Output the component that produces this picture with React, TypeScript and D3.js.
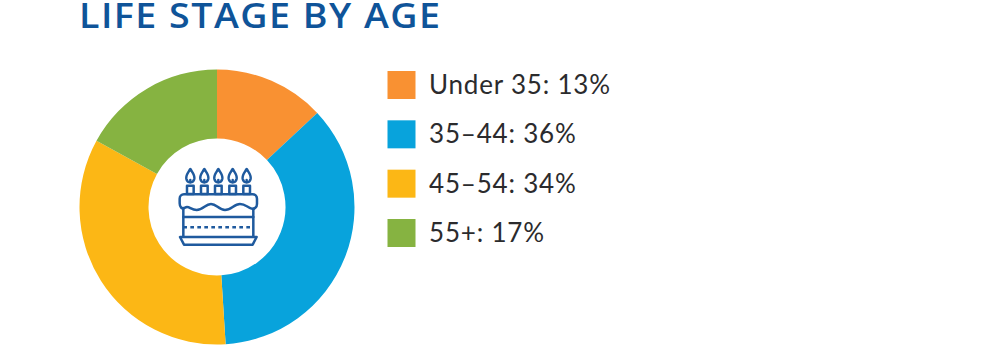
import React from "react";
import * as d3 from "d3";

const title = "LIFE STAGE BY AGE";
const categories = ["Under 35", "35–44", "45–54", "55+"];
const values = [13, 36, 34, 17];
const colors = ["#F99132", "#08A3DC", "#FCB715", "#86B341"];

const pie = d3.pie<number>().sort(null).value((d) => d);
const arc = d3.arc<d3.PieArcDatum<number>>().innerRadius(68.5).outerRadius(137.5);
const legendY = d3.scalePoint<number>().domain(d3.range(categories.length)).range([85, 233]);
const candleX = [151, 193, 235, 278, 320];

function Cake() {
  const c = "#1F5A9E";
  return (
    <g transform="translate(140,130) scale(0.3333)" fill="none" stroke={c} strokeWidth={7.5} strokeLinejoin="round" strokeLinecap="round">
      {candleX.map((x) => (
        <g key={x}>
          <path d={`M${x} 117 C${x - 6} 127 ${x - 14} 135 ${x - 12} 146 C${x - 10} 155 ${x - 5} 157 ${x} 157 C${x + 5} 157 ${x + 10} 155 ${x + 12} 146 C${x + 14} 135 ${x + 6} 127 ${x} 117 Z`} />
          <path d={`M${x} 150 V157`} />
          <rect x={x - 10} y={167} width={20} height={25} />
        </g>
      ))}
      <path d="M132 193 H338 C346 193 351 199 351 206 V222 C351 232 343 238 335 236 C322 232 316 222 300 222 C282 222 274 240 255 240 C236 240 230 222 213 222 C196 222 190 240 170 240 C152 240 146 225 135 233 C125 239 119 230 119 220 V206 C119 199 124 193 132 193 Z" />
      <path d="M130 236 V320 M340 236 V320" />
      <path d="M130 261 H340" />
      <path d="M130 292 H340" strokeDasharray="11 10" strokeLinecap="butt" />
      <path d="M120 321 H350 L338 344 H132 Z" />
    </g>
  );
}

export default function App() {
  const slices = pie(values);
  return (
    <svg width={1000} height={352} viewBox="0 0 1000 352" style={{ position: "absolute", left: 0, top: 0, background: "#fff" }}>
      <text transform="translate(79,27.5) scale(1.09,1)" fontFamily="Open Sans" fontWeight={600} fontSize={34.5} letterSpacing={1.35} fill="#0F5499">{title}</text>
      <g transform="translate(217,207)">
        {slices.map((s, i) => (
          <path key={categories[i]} d={arc(s) ?? ""} fill={colors[i]} />
        ))}
      </g>
      <Cake />
      {categories.map((cat, i) => (
        <g key={cat} transform={`translate(0,${legendY(i)})`}>
          <rect x={387.5} y={-14} width={28} height={28} fill={colors[i]} />
          <text x={429} y={9} fontFamily="Lato" fontSize={26} letterSpacing={0.8} fill="#2B2B2D">{`${cat}: ${values[i]}%`}</text>
        </g>
      ))}
    </svg>
  );
}
